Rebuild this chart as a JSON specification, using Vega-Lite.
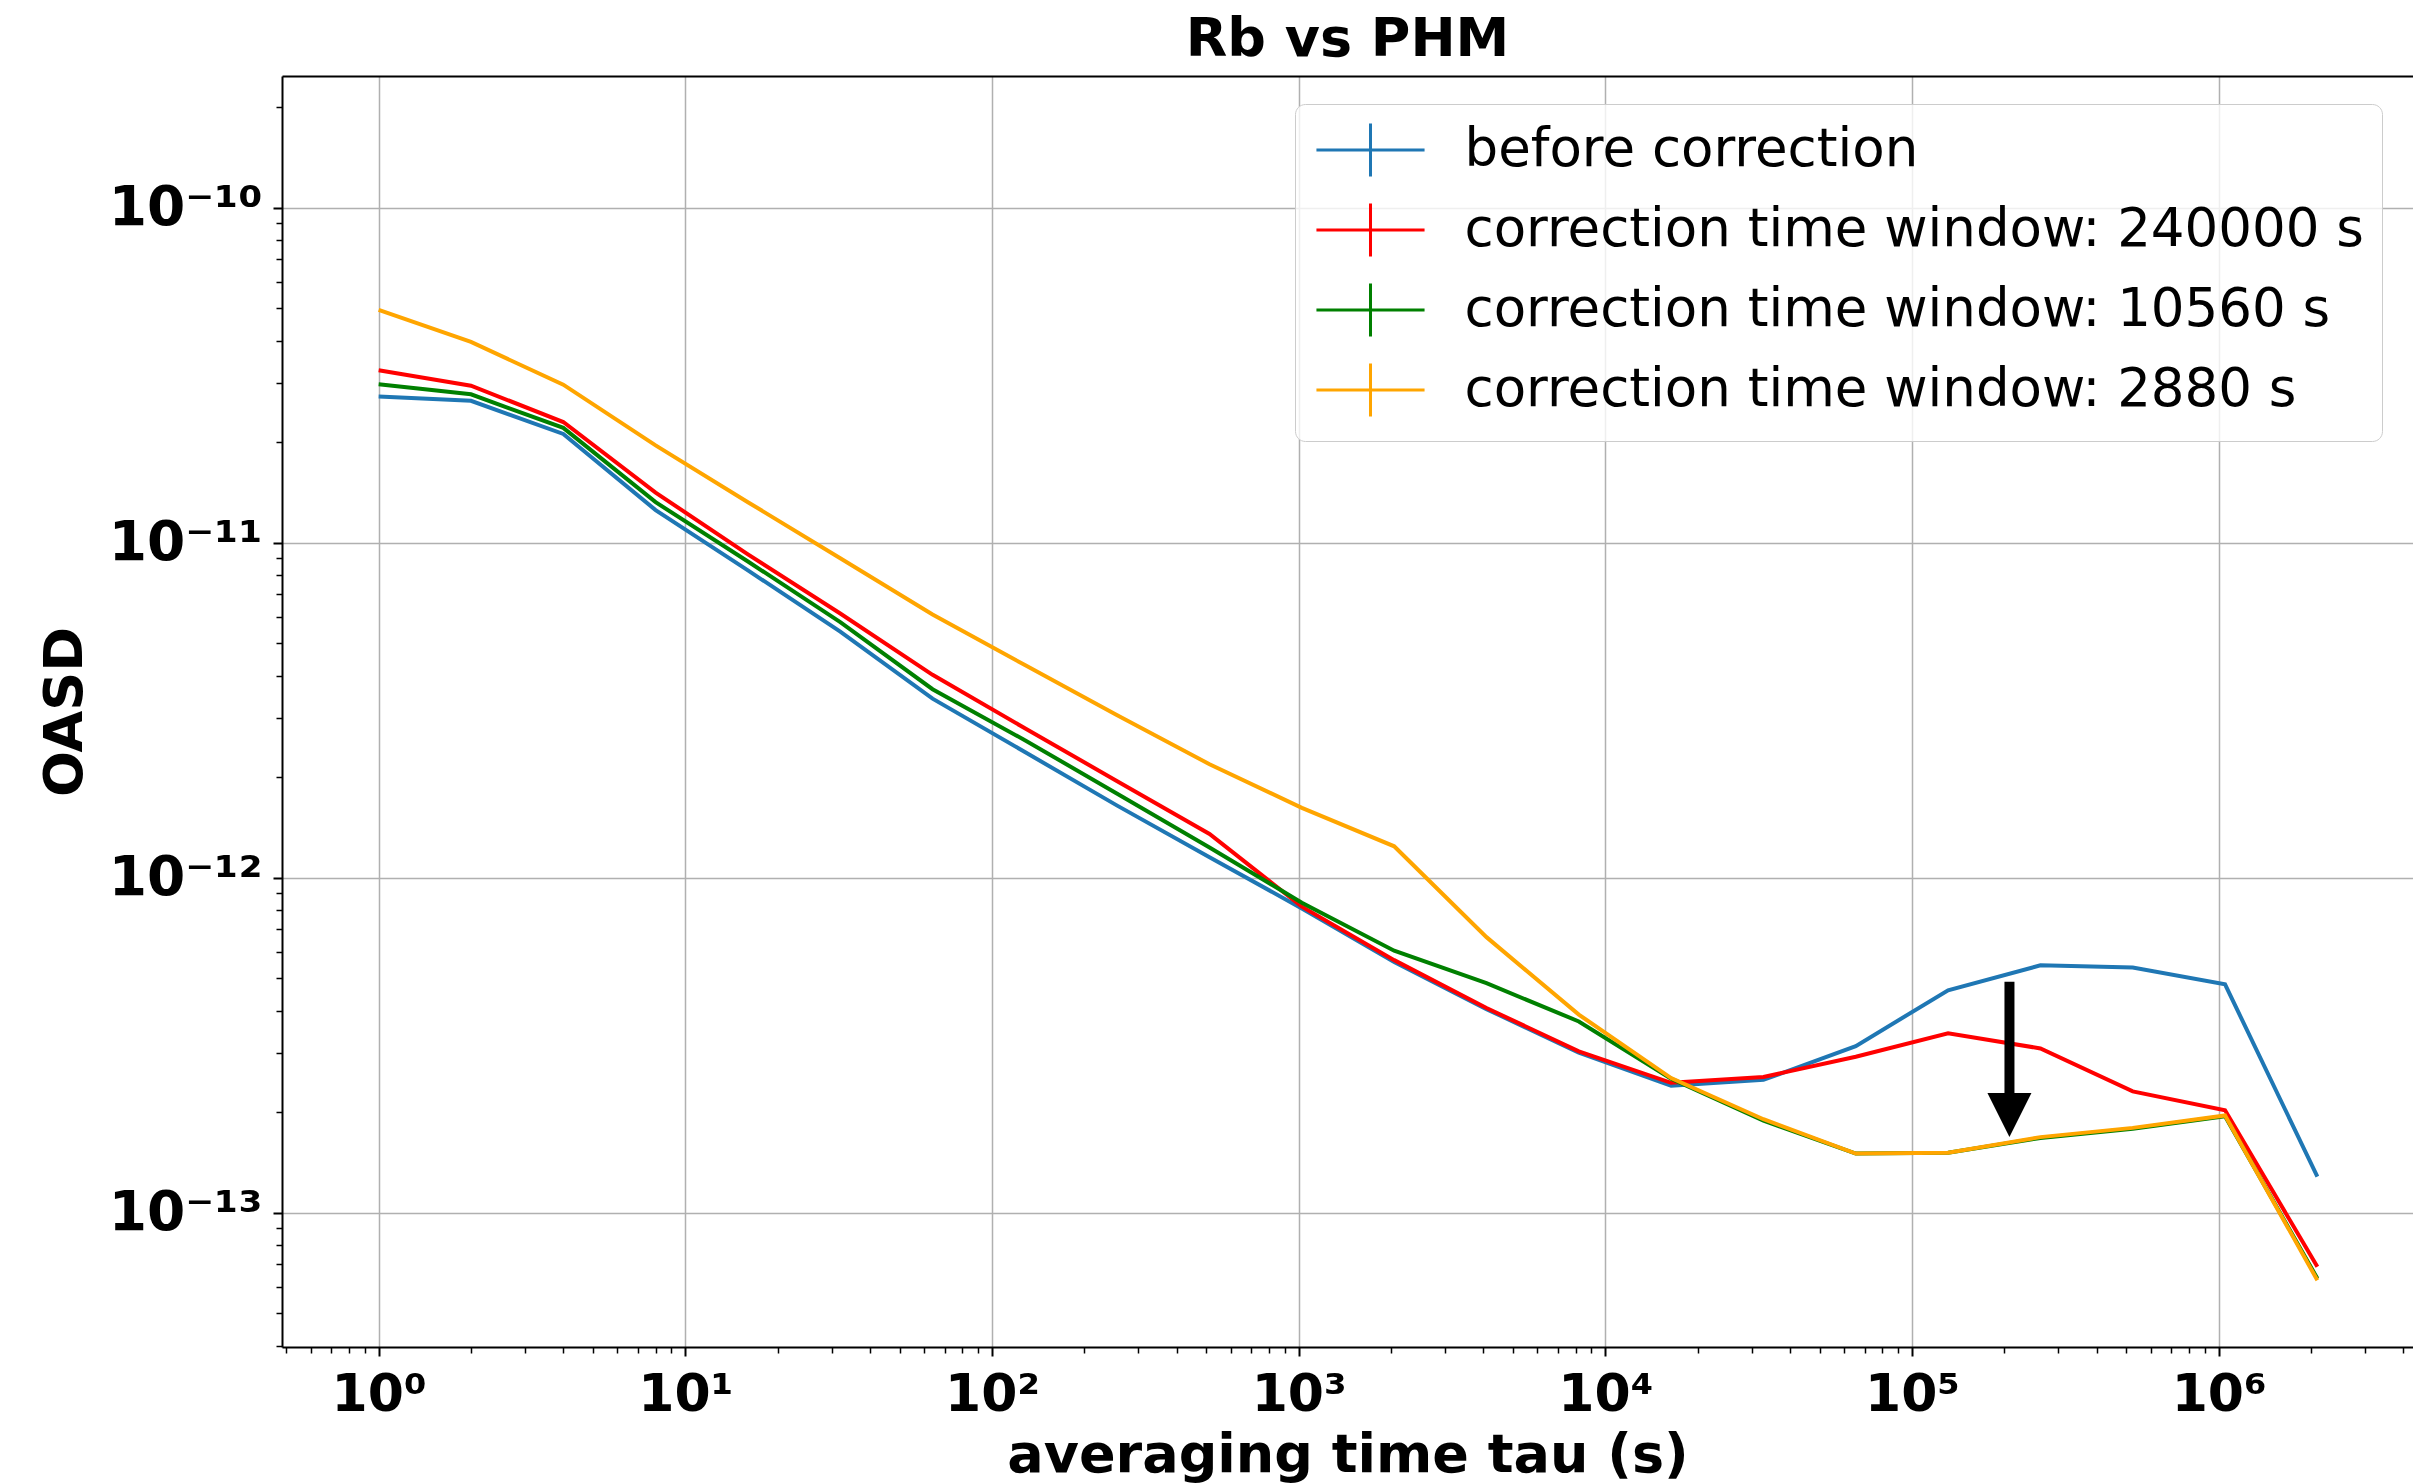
{
  "$schema": "https://vega.github.io/schema/vega-lite/v6.json",
  "autosize": {"type": "none"},
  "width": 2131,
  "height": 1271,
  "padding": {"left": 282, "top": 76, "right": 0, "bottom": 137},
  "background": "white",
  "title": {"text": "Rb vs PHM", "font": "DejaVu Sans", "fontSize": 54, "fontWeight": "bold", "color": "black", "baseline": "alphabetic", "offset": -34, "anchor": "middle"},
  "config": {
    "view": {"stroke": null},
    "axis": {
      "labelFont": "DejaVu Sans", "labelFontWeight": "bold", "labelFontSize": 52, "labelColor": "black",
      "titleFont": "DejaVu Sans", "titleFontWeight": "bold", "titleFontSize": 54, "titleColor": "black",
      "gridColor": "#b0b0b0", "gridWidth": 1.5, "gridOpacity": 1,
      "tickColor": "black", "tickWidth": 2, "domain": false, "domainColor": "black", "domainWidth": 2,
      "labelOverlap": false, "labelFlush": false
    }
  },
  "datasets": {
    "oasd": [
      {"tau": 1, "oasd": 2.73e-11, "series": "before correction"},
      {"tau": 2, "oasd": 2.65e-11, "series": "before correction"},
      {"tau": 4, "oasd": 2.11e-11, "series": "before correction"},
      {"tau": 8, "oasd": 1.25e-11, "series": "before correction"},
      {"tau": 16, "oasd": 8.26e-12, "series": "before correction"},
      {"tau": 32, "oasd": 5.42e-12, "series": "before correction"},
      {"tau": 64, "oasd": 3.42e-12, "series": "before correction"},
      {"tau": 128, "oasd": 2.37e-12, "series": "before correction"},
      {"tau": 256, "oasd": 1.64e-12, "series": "before correction"},
      {"tau": 512, "oasd": 1.15e-12, "series": "before correction"},
      {"tau": 1024, "oasd": 8.09e-13, "series": "before correction"},
      {"tau": 2048, "oasd": 5.60e-13, "series": "before correction"},
      {"tau": 4096, "oasd": 4.05e-13, "series": "before correction"},
      {"tau": 8192, "oasd": 3.00e-13, "series": "before correction"},
      {"tau": 16384, "oasd": 2.39e-13, "series": "before correction"},
      {"tau": 32768, "oasd": 2.49e-13, "series": "before correction"},
      {"tau": 65536, "oasd": 3.14e-13, "series": "before correction"},
      {"tau": 131072, "oasd": 4.61e-13, "series": "before correction"},
      {"tau": 262144, "oasd": 5.47e-13, "series": "before correction"},
      {"tau": 524288, "oasd": 5.39e-13, "series": "before correction"},
      {"tau": 1048576, "oasd": 4.80e-13, "series": "before correction"},
      {"tau": 2097152, "oasd": 1.28e-13, "series": "before correction"},
      {"tau": 1, "oasd": 3.27e-11, "series": "correction time window: 240000 s"},
      {"tau": 2, "oasd": 2.94e-11, "series": "correction time window: 240000 s"},
      {"tau": 4, "oasd": 2.29e-11, "series": "correction time window: 240000 s"},
      {"tau": 8, "oasd": 1.41e-11, "series": "correction time window: 240000 s"},
      {"tau": 16, "oasd": 9.22e-12, "series": "correction time window: 240000 s"},
      {"tau": 32, "oasd": 6.14e-12, "series": "correction time window: 240000 s"},
      {"tau": 64, "oasd": 4.03e-12, "series": "correction time window: 240000 s"},
      {"tau": 128, "oasd": 2.79e-12, "series": "correction time window: 240000 s"},
      {"tau": 256, "oasd": 1.94e-12, "series": "correction time window: 240000 s"},
      {"tau": 512, "oasd": 1.35e-12, "series": "correction time window: 240000 s"},
      {"tau": 1024, "oasd": 8.19e-13, "series": "correction time window: 240000 s"},
      {"tau": 2048, "oasd": 5.67e-13, "series": "correction time window: 240000 s"},
      {"tau": 4096, "oasd": 4.08e-13, "series": "correction time window: 240000 s"},
      {"tau": 8192, "oasd": 3.03e-13, "series": "correction time window: 240000 s"},
      {"tau": 16384, "oasd": 2.44e-13, "series": "correction time window: 240000 s"},
      {"tau": 32768, "oasd": 2.54e-13, "series": "correction time window: 240000 s"},
      {"tau": 65536, "oasd": 2.92e-13, "series": "correction time window: 240000 s"},
      {"tau": 131072, "oasd": 3.43e-13, "series": "correction time window: 240000 s"},
      {"tau": 262144, "oasd": 3.09e-13, "series": "correction time window: 240000 s"},
      {"tau": 524288, "oasd": 2.30e-13, "series": "correction time window: 240000 s"},
      {"tau": 1048576, "oasd": 2.02e-13, "series": "correction time window: 240000 s"},
      {"tau": 2097152, "oasd": 6.89e-14, "series": "correction time window: 240000 s"},
      {"tau": 1, "oasd": 2.97e-11, "series": "correction time window: 10560 s"},
      {"tau": 2, "oasd": 2.77e-11, "series": "correction time window: 10560 s"},
      {"tau": 4, "oasd": 2.20e-11, "series": "correction time window: 10560 s"},
      {"tau": 8, "oasd": 1.32e-11, "series": "correction time window: 10560 s"},
      {"tau": 16, "oasd": 8.78e-12, "series": "correction time window: 10560 s"},
      {"tau": 32, "oasd": 5.79e-12, "series": "correction time window: 10560 s"},
      {"tau": 64, "oasd": 3.65e-12, "series": "correction time window: 10560 s"},
      {"tau": 128, "oasd": 2.57e-12, "series": "correction time window: 10560 s"},
      {"tau": 256, "oasd": 1.78e-12, "series": "correction time window: 10560 s"},
      {"tau": 512, "oasd": 1.23e-12, "series": "correction time window: 10560 s"},
      {"tau": 1024, "oasd": 8.41e-13, "series": "correction time window: 10560 s"},
      {"tau": 2048, "oasd": 6.05e-13, "series": "correction time window: 10560 s"},
      {"tau": 4096, "oasd": 4.84e-13, "series": "correction time window: 10560 s"},
      {"tau": 8192, "oasd": 3.72e-13, "series": "correction time window: 10560 s"},
      {"tau": 16384, "oasd": 2.51e-13, "series": "correction time window: 10560 s"},
      {"tau": 32768, "oasd": 1.88e-13, "series": "correction time window: 10560 s"},
      {"tau": 65536, "oasd": 1.50e-13, "series": "correction time window: 10560 s"},
      {"tau": 131072, "oasd": 1.51e-13, "series": "correction time window: 10560 s"},
      {"tau": 262144, "oasd": 1.67e-13, "series": "correction time window: 10560 s"},
      {"tau": 524288, "oasd": 1.78e-13, "series": "correction time window: 10560 s"},
      {"tau": 1048576, "oasd": 1.94e-13, "series": "correction time window: 10560 s"},
      {"tau": 2097152, "oasd": 6.36e-14, "series": "correction time window: 10560 s"},
      {"tau": 1, "oasd": 4.95e-11, "series": "correction time window: 2880 s"},
      {"tau": 2, "oasd": 3.97e-11, "series": "correction time window: 2880 s"},
      {"tau": 4, "oasd": 2.96e-11, "series": "correction time window: 2880 s"},
      {"tau": 8, "oasd": 1.95e-11, "series": "correction time window: 2880 s"},
      {"tau": 16, "oasd": 1.32e-11, "series": "correction time window: 2880 s"},
      {"tau": 32, "oasd": 8.98e-12, "series": "correction time window: 2880 s"},
      {"tau": 64, "oasd": 6.10e-12, "series": "correction time window: 2880 s"},
      {"tau": 128, "oasd": 4.31e-12, "series": "correction time window: 2880 s"},
      {"tau": 256, "oasd": 3.05e-12, "series": "correction time window: 2880 s"},
      {"tau": 512, "oasd": 2.18e-12, "series": "correction time window: 2880 s"},
      {"tau": 1024, "oasd": 1.615e-12, "series": "correction time window: 2880 s"},
      {"tau": 2048, "oasd": 1.24e-12, "series": "correction time window: 2880 s"},
      {"tau": 4096, "oasd": 6.64e-13, "series": "correction time window: 2880 s"},
      {"tau": 8192, "oasd": 3.90e-13, "series": "correction time window: 2880 s"},
      {"tau": 16384, "oasd": 2.52e-13, "series": "correction time window: 2880 s"},
      {"tau": 32768, "oasd": 1.90e-13, "series": "correction time window: 2880 s"},
      {"tau": 65536, "oasd": 1.50e-13, "series": "correction time window: 2880 s"},
      {"tau": 131072, "oasd": 1.51e-13, "series": "correction time window: 2880 s"},
      {"tau": 262144, "oasd": 1.68e-13, "series": "correction time window: 2880 s"},
      {"tau": 524288, "oasd": 1.79e-13, "series": "correction time window: 2880 s"},
      {"tau": 1048576, "oasd": 1.95e-13, "series": "correction time window: 2880 s"},
      {"tau": 2097152, "oasd": 6.28e-14, "series": "correction time window: 2880 s"}
    ],
    "arrow": [
      {"tau": 207800, "top": 4.89e-13, "bottom": 2.17e-13, "head": 1.955e-13}
    ]
  },
  "resolve": {"axis": {"x": "independent", "y": "independent"}},
  "layer": [
    {
      "data": {"name": "oasd"},
      "mark": {"type": "line", "strokeWidth": 4, "clip": true},
      "encoding": {
        "x": {
          "field": "tau", "type": "quantitative",
          "scale": {"type": "log", "domain": [0.484, 4300000], "nice": false},
          "axis": {
            "orient": "bottom", "title": "averaging time tau (s)", "values": [1, 10, 100, 1000, 10000, 100000, 1000000],
            "labelExpr": "'10' + substring('⁰¹²³⁴⁵⁶', round(log(datum.value)/LN10), round(log(datum.value)/LN10) + 1)",
            "tickSize": 9, "labelPadding": 54, "labelBaseline": "alphabetic", "grid": true, "domain": true,
            "titleY": 124, "titleBaseline": "alphabetic"
          }
        },
        "y": {
          "field": "oasd", "type": "quantitative",
          "scale": {"type": "log", "domain": [3.97e-14, 2.47e-10], "nice": false},
          "axis": {
            "orient": "left", "title": "OASD", "values": [1e-13, 1e-12, 1e-11, 1e-10],
            "labelExpr": "'10⁻¹' + substring('⁰¹²³', -round(log(datum.value)/LN10) - 10, -round(log(datum.value)/LN10) - 9)",
            "tickSize": 9, "labelPadding": 11, "labelBaseline": "middle", "labelFontSize": 55, "grid": true, "domain": true,
            "titleX": -217, "titleY": 635.5, "titleBaseline": "middle", "titleAngle": -90
          }
        },
        "color": {
          "field": "series", "type": "nominal",
          "scale": {
            "domain": ["before correction", "correction time window: 240000 s", "correction time window: 10560 s", "correction time window: 2880 s"],
            "range": ["#1f77b4", "#ff0000", "#008000", "#ffa500"]
          },
          "legend": {
            "title": null, "orient": "none", "legendX": 1013, "legendY": 28,
            "padding": 18, "fillColor": "rgba(255,255,255,0.8)", "strokeColor": "#cccccc", "cornerRadius": 10,
            "symbolType": "M -2.04 0 L 2.04 0 M 0 -1 L 0 1", "symbolSize": 2809, "symbolStrokeWidth": 3,
            "symbolOffset": 29.5, "labelOffset": 66, "labelFont": "DejaVu Sans", "labelFontSize": 53,
            "labelColor": "black", "rowPadding": 14, "labelLimit": 2000
          }
        }
      }
    },
    {
      "data": {"name": "arrow"},
      "mark": {"type": "rule", "strokeWidth": 10, "color": "black", "strokeCap": "butt"},
      "encoding": {
        "x": {
          "field": "tau", "type": "quantitative",
          "axis": {
            "orient": "bottom", "title": null, "labels": false, "grid": false, "tickSize": 6, "tickWidth": 1.5,
            "values": [0.5, 0.6, 0.7, 0.8, 0.9, 2, 3, 4, 5, 6, 7, 8, 9, 20, 30, 40, 50, 60, 70, 80, 90, 200, 300, 400, 500, 600, 700, 800, 900, 2000, 3000, 4000, 5000, 6000, 7000, 8000, 9000, 20000, 30000, 40000, 50000, 60000, 70000, 80000, 90000, 200000, 300000, 400000, 500000, 600000, 700000, 800000, 900000, 2000000, 3000000, 4000000]
          }
        },
        "y": {
          "field": "top", "type": "quantitative",
          "axis": {
            "orient": "left", "title": null, "labels": false, "grid": false, "tickSize": 6, "tickWidth": 1.5,
            "values": [4e-14, 5e-14, 6e-14, 7e-14, 8e-14, 9e-14, 2e-13, 3e-13, 4e-13, 5e-13, 6e-13, 7e-13, 8e-13, 9e-13, 2e-12, 3e-12, 4e-12, 5e-12, 6e-12, 7e-12, 8e-12, 9e-12, 2e-11, 3e-11, 4e-11, 5e-11, 6e-11, 7e-11, 8e-11, 9e-11, 2e-10]
          }
        },
        "y2": {"field": "bottom"}
      }
    },
    {
      "data": {"name": "arrow"},
      "mark": {"type": "point", "shape": "M -1 -1 L 1 -1 L 0 1 Z", "size": 1936, "filled": true, "color": "black", "opacity": 1, "strokeWidth": 0},
      "encoding": {
        "x": {
          "field": "tau", "type": "quantitative",
          "axis": {"orient": "top", "title": null, "labels": false, "ticks": false, "grid": false, "domain": true}
        },
        "y": {"field": "head", "type": "quantitative", "axis": null}
      }
    }
  ]
}
